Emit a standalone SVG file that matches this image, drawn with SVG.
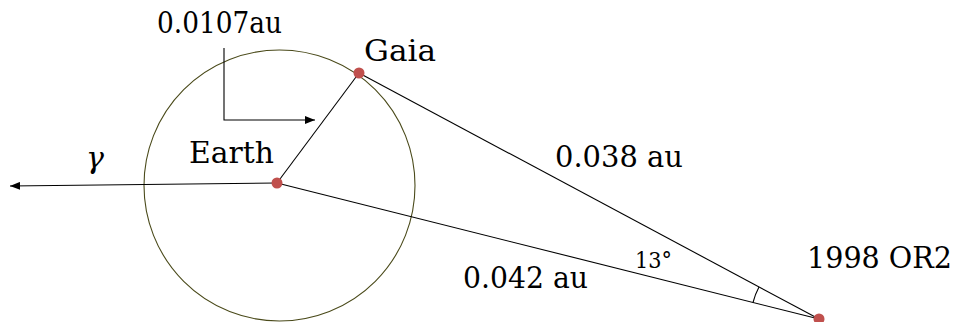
<svg xmlns="http://www.w3.org/2000/svg" width="959" height="322" viewBox="0 0 959 322">
<style>
.lbl{font-size:30px}
.small{font-size:22px}
.ln{stroke:#000;stroke-width:1.1;fill:none}
.dot{fill:#c0504d}
</style>
<defs>
<marker id="ah" viewBox="0 0 10 8" refX="10" refY="4" markerWidth="10" markerHeight="8" markerUnits="userSpaceOnUse" orient="auto">
<path d="M0,0 L10,4 L0,8 z" fill="#000"/>
</marker>
</defs>
<rect width="959" height="322" fill="#fff"/>
<g id="orbit"><circle cx="279.5" cy="185.5" r="135.5" fill="none" stroke="#4a4a1a" stroke-width="1.1"/></g>
<g id="connectors">
<path class="ln" d="M277,183 L10,186" marker-end="url(#ah)"/>
<path class="ln" d="M277,183 L359,73"/>
<path class="ln" d="M359,73 L819,319"/>
<path class="ln" d="M277,183 L819,319"/>
<path class="ln" d="M224,48 L224,120 L315,120" marker-end="url(#ah)"/>
<path class="ln" d="M759,287 A68,68 0 0 0 753,302.5"/>
</g>
<g font-family="'DejaVu Serif', serif" fill="#000">
<g id="earth"><circle class="dot" cx="277" cy="183" r="5.5"/><text class="lbl" x="189" y="163" textLength="85" lengthAdjust="spacingAndGlyphs">Earth</text></g>
<g id="gaia"><circle class="dot" cx="359" cy="73" r="5.5"/><text class="lbl" x="364" y="61" textLength="72" lengthAdjust="spacingAndGlyphs">Gaia</text></g>
<g id="or2"><circle class="dot" cx="819" cy="319" r="5.5"/><text class="lbl" x="807" y="268" textLength="145" lengthAdjust="spacingAndGlyphs">1998 OR2</text></g>
<g id="labels">
<text class="lbl" x="157" y="33" textLength="125" lengthAdjust="spacingAndGlyphs">0.0107au</text>
<text class="lbl" x="86" y="168" font-style="italic">γ</text>
<text class="lbl" x="555" y="167" textLength="128" lengthAdjust="spacingAndGlyphs">0.038 au</text>
<text class="lbl" x="463" y="288" textLength="125" lengthAdjust="spacingAndGlyphs">0.042 au</text>
<text class="small" x="635" y="268" textLength="37" lengthAdjust="spacingAndGlyphs">13°</text>
</g>
</g>
</svg>
